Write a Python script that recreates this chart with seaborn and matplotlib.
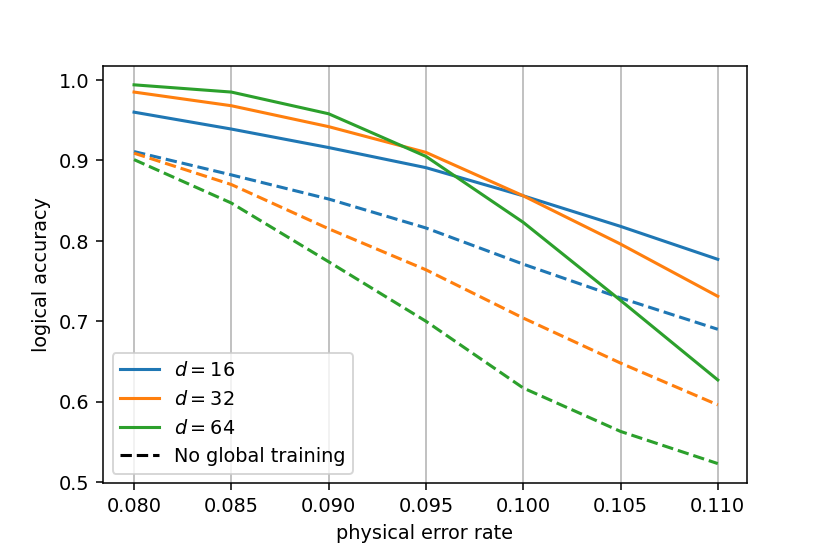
import numpy as np
import pandas as pd
import seaborn as sns
import matplotlib
matplotlib.use("Agg")
import matplotlib.pyplot as plt
from matplotlib.lines import Line2D

# data
error_rate = [0.080, 0.085, 0.090, 0.095, 0.100, 0.105, 0.110]
distances = [16, 32, 64]

acc_d16 = [0.960, 0.939, 0.916, 0.891, 0.856, 0.818, 0.777]
acc_d32 = [0.985, 0.968, 0.942, 0.910, 0.856, 0.796, 0.731]
acc_d64 = [0.994, 0.985, 0.958, 0.905, 0.823, 0.726, 0.627]

acc_d16_noglobal = [0.911, 0.882, 0.852, 0.816, 0.771, 0.729, 0.690]
acc_d32_noglobal = [0.909, 0.870, 0.815, 0.764, 0.704, 0.648, 0.596]
acc_d64_noglobal = [0.901, 0.847, 0.774, 0.700, 0.617, 0.563, 0.523]

rows = []
for d, glob, noglob in zip(distances,
                           [acc_d16, acc_d32, acc_d64],
                           [acc_d16_noglobal, acc_d32_noglobal, acc_d64_noglobal]):
    for p, a, b in zip(error_rate, glob, noglob):
        rows.append({"p": p, "acc": a, "d": d, "training": "global"})
        rows.append({"p": p, "acc": b, "d": d, "training": "none"})
df = pd.DataFrame(rows)

colors = ["#1f77b4", "#ff7f0e", "#2ca02c"]

fig, ax = plt.subplots(figsize=(6, 4), dpi=138.33)
fig.subplots_adjust(left=0.124, right=0.9, top=0.881, bottom=0.126)

sns.lineplot(data=df, x="p", y="acc", hue="d", style="training",
             palette=colors, dashes={"global": "", "none": (3.7, 1.6)},
             linewidth=1.6, ax=ax, legend=False)

ax.set_xticks(error_rate)
ax.set_xticklabels(["%.3f" % p for p in error_rate])
ax.set_yticks([0.5, 0.6, 0.7, 0.8, 0.9, 1.0])
ax.set_ylim(0.4985, 1.018)
ax.set_xlim(0.0784, 0.1115)
ax.xaxis.grid(True, color="#b0b0b0", linewidth=0.8)
ax.set_axisbelow(True)
ax.set_xlabel("physical error rate")
ax.set_ylabel("logical accuracy")

handles = [Line2D([0], [0], color=c, lw=1.6) for c in colors]
handles.append(Line2D([0], [0], color="black", lw=1.6, ls="--"))
labels = ["$d = %d$" % d for d in distances] + ["No global training"]
ax.legend(handles, labels, loc="lower left")

fig.savefig("out.png", dpi=138.33)
